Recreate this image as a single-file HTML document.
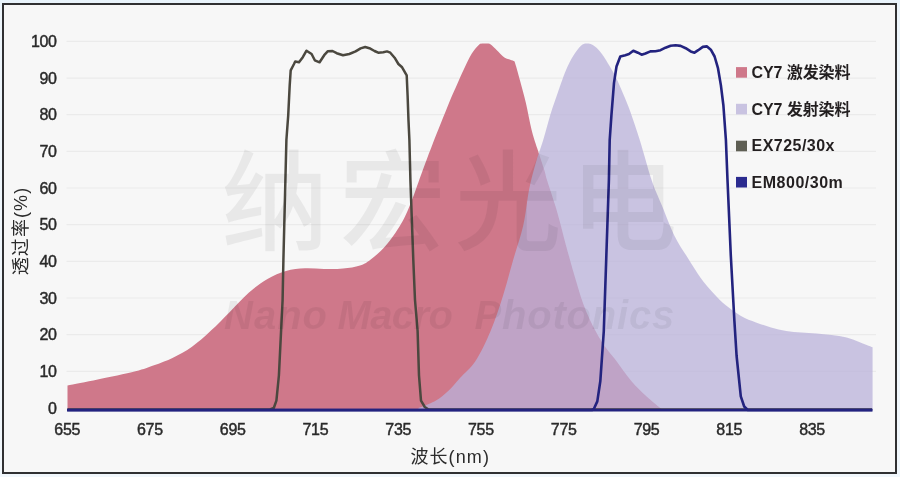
<!DOCTYPE html>
<html lang="zh-CN">
<head>
<meta charset="utf-8">
<title>CY7 滤光片光谱曲线</title>
<style>
html,body{margin:0;padding:0;}
body{width:900px;height:477px;overflow:hidden;position:relative;
  background:linear-gradient(#e8f3fb 0,#edf5fb 8px,#f1f7fc 100%);font-family:"Liberation Sans", "Noto Sans CJK SC", sans-serif;}
#frame{position:absolute;left:2.1px;top:3.1px;width:891.2px;height:467.3px;border:2.2px solid #303032;
  border-top-width:2px;background:#f7f7f7;box-sizing:content-box;}
svg{position:absolute;left:0;top:0;will-change:transform;}
svg text{font-family:"Liberation Sans", "Noto Sans CJK SC", sans-serif;}
.grid line{stroke:#ebebeb;stroke-width:1.2;}
.tick text{font-size:16px;fill:#2a2a2a;stroke:#2a2a2a;stroke-width:0.45px;letter-spacing:-0.35px;}
.legend text{font-size:16px;font-weight:700;fill:#231f20;}
.axis{font-size:18px;fill:#2c2c2c;letter-spacing:1.1px;}
.wm1{font-size:107px;font-weight:500;fill:#000;fill-opacity:0.06;}
.wm2{font-size:40px;font-weight:700;font-style:italic;fill:#000;fill-opacity:0.06;}
</style>
</head>
<body>
<div id="frame"></div>
<svg width="900" height="477" viewBox="0 0 900 477">
<g class="grid">
<line x1="66.5" y1="371.3" x2="876" y2="371.3"/>
<line x1="66.5" y1="334.7" x2="876" y2="334.7"/>
<line x1="66.5" y1="298.0" x2="876" y2="298.0"/>
<line x1="66.5" y1="261.4" x2="876" y2="261.4"/>
<line x1="66.5" y1="224.7" x2="876" y2="224.7"/>
<line x1="66.5" y1="188.0" x2="876" y2="188.0"/>
<line x1="66.5" y1="151.4" x2="876" y2="151.4"/>
<line x1="66.5" y1="114.7" x2="876" y2="114.7"/>
<line x1="66.5" y1="78.1" x2="876" y2="78.1"/>
<line x1="66.5" y1="41.4" x2="876" y2="41.4"/>
</g>
<path d="M67.5,410 L67.5,385.5  C72.5,384.5 86.4,382.0 97.7,379.6 C109.0,377.2 126.1,373.7 135.5,371.3 C144.9,368.9 147.8,367.6 154.0,365.3 C160.2,363.0 166.7,360.8 173.0,357.7 C179.3,354.6 185.7,351.3 192.0,346.8 C198.3,342.3 204.7,336.5 211.0,330.6 C217.3,324.8 223.7,318.0 230.0,311.7 C236.3,305.4 242.4,298.3 248.7,292.8 C254.9,287.3 261.3,282.5 267.5,278.9 C273.7,275.2 279.8,272.7 286.0,270.9 C292.2,269.1 298.7,268.6 305.0,268.3 C311.3,268.0 317.7,268.9 324.0,269.0 C330.3,269.1 337.0,269.2 343.0,268.6 C349.0,268.0 355.4,267.0 360.0,265.5 C364.6,264.0 366.4,262.8 370.7,259.5 C375.0,256.2 380.8,251.4 385.8,245.5 C390.9,239.6 396.8,231.2 401.0,224.0 C405.2,216.8 407.3,211.6 411.0,202.5 C414.7,193.4 419.3,179.4 423.0,169.5 C426.7,159.6 428.7,154.0 433.0,143.0 C437.3,132.0 444.9,113.0 448.8,103.5 C452.7,94.0 453.9,91.8 456.4,86.0 C458.9,80.2 461.5,74.3 464.0,69.0 C466.5,63.7 469.1,58.0 471.5,54.0 C473.9,50.0 476.8,46.9 478.5,45.2 C480.2,43.5 480.3,43.9 482.0,43.6 C483.7,43.3 486.8,43.3 488.5,43.6 C490.2,43.9 490.6,44.4 492.0,45.5 C493.4,46.6 494.5,48.0 496.6,50.0 C498.7,52.0 502.3,56.1 504.4,57.6 C506.5,59.1 507.5,58.8 509.0,59.3 C510.5,59.8 512.8,60.6 513.6,60.9 C513.9,61.3 514.1,60.1 515.2,63.4 C516.3,66.7 518.2,73.8 520.0,80.4 C521.8,87.0 524.0,94.8 525.9,103.0 C527.8,111.2 529.6,121.9 531.5,129.4 C533.4,137.0 535.0,141.4 537.2,148.3 C539.4,155.2 543.0,165.7 544.6,171.0 C546.2,176.3 545.0,173.5 547.0,180.0 C549.0,186.5 553.4,199.1 556.6,210.0 C559.8,220.9 562.8,233.6 566.0,245.4 C569.2,257.2 572.7,269.8 576.0,280.7 C579.3,291.6 581.8,300.8 586.0,310.9 C590.2,320.9 596.2,332.6 601.3,341.0 C606.4,349.4 611.4,354.3 616.4,361.0 C621.4,367.7 626.5,375.4 631.5,381.3 C636.5,387.2 641.6,391.8 646.6,396.4 C651.6,401.0 659.2,406.9 661.7,409.0 L661.7,410 Z" fill="#cf788a"/>
<path d="M418.5,410 L418.5,408  C419.2,407.8 419.7,407.7 422.6,406.5 C425.5,405.3 431.6,403.2 436.0,400.6 C440.4,398.0 444.7,394.4 448.7,390.6 C452.7,386.8 455.5,382.9 460.0,378.0 C464.5,373.1 470.4,368.8 475.5,361.0 C480.6,353.2 486.0,341.9 490.6,331.0 C495.2,320.1 499.3,307.6 503.0,295.8 C506.7,284.1 509.6,272.2 513.0,260.5 C516.4,248.8 520.6,237.1 523.3,225.3 C526.0,213.6 527.0,200.3 529.0,190.0 C531.0,179.7 533.3,171.6 535.6,163.4 C537.9,155.2 540.5,149.0 543.0,140.8 C545.5,132.6 548.0,122.5 550.5,114.3 C553.0,106.1 555.6,98.9 558.1,91.7 C560.6,84.5 563.1,77.0 565.6,71.0 C568.1,65.0 570.7,60.0 573.3,55.8 C575.9,51.6 578.8,47.8 581.0,45.7 C583.2,43.6 584.4,43.5 586.4,43.4 C588.4,43.3 590.5,43.6 592.8,45.0 C595.1,46.4 597.9,48.9 600.4,52.0 C602.9,55.1 605.5,59.3 608.0,63.4 C610.5,67.5 613.0,71.6 615.5,76.6 C618.0,81.6 620.5,87.6 623.0,93.6 C625.5,99.6 627.8,104.6 630.6,112.5 C633.4,120.4 636.5,129.6 640.0,140.8 C643.5,152.1 648.0,169.3 651.6,180.0 C655.2,190.7 657.9,195.8 661.7,205.0 C665.5,214.2 670.1,226.8 674.3,235.4 C678.5,244.0 682.5,249.4 686.9,256.5 C691.3,263.6 696.3,271.9 700.7,278.0 C705.1,284.1 709.0,288.4 713.2,293.0 C717.4,297.6 721.2,301.5 725.8,305.3 C730.4,309.1 736.0,313.0 741.0,315.9 C746.0,318.8 751.0,320.5 756.0,322.4 C761.0,324.3 766.0,326.1 771.0,327.5 C776.0,328.9 781.2,330.2 786.2,331.0 C791.2,331.8 796.3,332.1 801.3,332.5 C806.3,332.9 811.4,333.1 816.4,333.5 C821.4,333.9 826.5,334.3 831.5,335.0 C836.5,335.7 842.0,336.3 846.6,337.5 C851.2,338.7 854.9,340.4 859.2,342.0 C863.5,343.6 870.4,346.4 872.6,347.3 L872.6,410 Z" fill="rgb(186,178,218)" fill-opacity="0.75"/>
<path d="M67.5,409.5 L270.0,409.5 L273.8,408.0 L276.4,400.6 L278.9,375.5 L282.6,300.0 L283.4,260.0 L286.4,140.0 L288.2,115.6 L289.7,85.4 L290.7,70.3 L294.0,64.0 L295.2,61.5 L299.0,62.3 L302.8,57.2 L306.5,50.7 L311.6,54.0 L314.8,60.3 L319.6,62.3 L324.2,55.2 L327.9,51.2 L332.5,51.0 L336.7,53.2 L343.0,55.2 L349.3,54.0 L355.6,51.4 L360.6,48.4 L365.2,47.0 L369.4,48.2 L374.5,51.0 L378.2,52.7 L383.3,52.2 L387.0,51.4 L390.3,52.7 L394.6,57.7 L398.4,64.0 L402.1,67.3 L406.7,75.3 L407.6,95.5 L408.5,120.6 L409.4,140.0 L410.4,180.0 L413.3,260.0 L415.0,300.0 L417.6,331.0 L419.0,375.5 L421.0,400.6 L424.8,407.0 L428.5,409.5 L872.0,409.5" fill="none" stroke="#4b483f" stroke-width="2.5" stroke-linejoin="round"/>
<line x1="67" y1="410.1" x2="872.6" y2="410.1" stroke="#23237f" stroke-width="2.7"/>
<path d="M67.5,410.0 L592.0,410.0 L593.8,409.0 L597.3,401.4 L600.3,381.3 L603.8,331.0 L608.9,180.0 L609.7,140.0 L611.4,115.6 L614.0,82.9 L616.5,66.5 L620.3,56.5 L625.3,55.2 L629.0,54.0 L633.3,50.7 L637.9,52.7 L641.6,54.7 L645.4,53.5 L650.4,51.4 L655.5,51.2 L660.5,50.2 L665.5,47.7 L670.6,45.7 L675.6,45.2 L680.6,45.9 L685.7,48.2 L690.7,51.4 L694.5,52.7 L698.2,50.2 L702.8,46.9 L707.0,46.4 L710.8,49.7 L714.6,56.5 L717.9,67.8 L720.9,85.4 L723.4,105.5 L725.9,140.0 L727.5,180.0 L730.8,255.5 L734.4,321.0 L736.6,356.0 L740.8,396.4 L744.2,406.5 L747.8,410.0 L872.0,410.0" fill="none" stroke="#23237f" stroke-width="2.6" stroke-linejoin="round"/>
<g class="tick">
<text x="56.6" y="413.7" text-anchor="end">0</text>
<text x="56.6" y="377.0" text-anchor="end">10</text>
<text x="56.6" y="340.4" text-anchor="end">20</text>
<text x="56.6" y="303.7" text-anchor="end">30</text>
<text x="56.6" y="267.1" text-anchor="end">40</text>
<text x="56.6" y="230.4" text-anchor="end">50</text>
<text x="56.6" y="193.7" text-anchor="end">60</text>
<text x="56.6" y="157.1" text-anchor="end">70</text>
<text x="56.6" y="120.4" text-anchor="end">80</text>
<text x="56.6" y="83.8" text-anchor="end">90</text>
<text x="56.6" y="47.1" text-anchor="end">100</text>
<text x="67.2" y="434.7" text-anchor="middle">655</text>
<text x="149.9" y="434.7" text-anchor="middle">675</text>
<text x="232.7" y="434.7" text-anchor="middle">695</text>
<text x="315.4" y="434.7" text-anchor="middle">715</text>
<text x="398.2" y="434.7" text-anchor="middle">735</text>
<text x="480.9" y="434.7" text-anchor="middle">755</text>
<text x="563.7" y="434.7" text-anchor="middle">775</text>
<text x="646.5" y="434.7" text-anchor="middle">795</text>
<text x="729.2" y="434.7" text-anchor="middle">815</text>
<text x="812.0" y="434.7" text-anchor="middle">835</text>
</g>
<g class="legend">
<rect x="736" y="67.1" width="11" height="10.6" fill="#cf788a"/>
<text x="751.6" y="77.8" letter-spacing="-0.1">CY7 激发染料</text>
<rect x="736" y="103.8" width="11" height="10.6" fill="#c9c3e1"/>
<text x="751.6" y="114.5" letter-spacing="-0.1">CY7 发射染料</text>
<rect x="736" y="140.7" width="11" height="10.6" fill="#5f5f54"/>
<text x="751.6" y="151.4" letter-spacing="0.45">EX725/30x</text>
<rect x="736" y="176.9" width="11" height="10.6" fill="#2b2b8f"/>
<text x="751.6" y="187.6" letter-spacing="0.5">EM800/30m</text>
</g>
<text class="axis" x="450.2" y="463.4" text-anchor="middle">波长(nm)</text>
<text class="axis" transform="translate(27,231) rotate(-90)" text-anchor="middle">透过率(%)</text>
<text class="wm1" transform="translate(221.5,241.8) scale(1,1.02)" x="0 117.8 233.2 348.8">纳宏光电</text>
<text class="wm2" y="329"><tspan x="224" letter-spacing="1">Nano</tspan><tspan x="337.5" letter-spacing="-0.6">Macro</tspan><tspan x="474.5" letter-spacing="0.8">Photonics</tspan></text>
</svg>
</body>
</html>
